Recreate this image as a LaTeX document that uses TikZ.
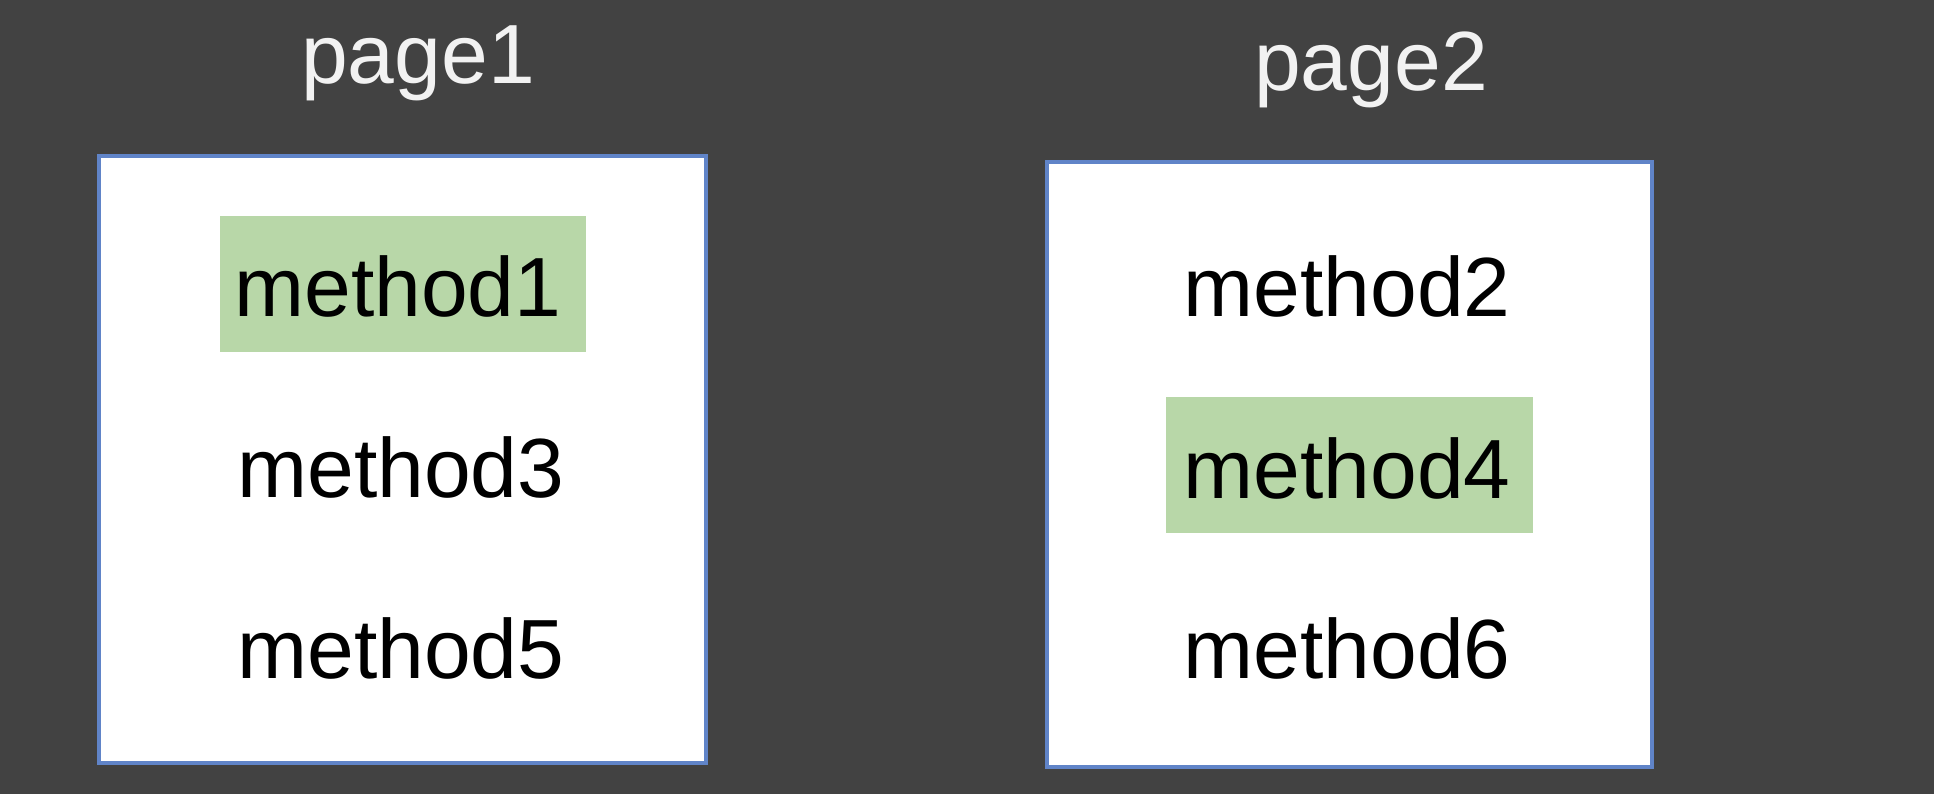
\documentclass[tikz,border=0pt]{standalone}
\usepackage{fontspec}
\setmainfont{Liberation Sans}
\definecolor{bgdark}{HTML}{424242}
\definecolor{frameblue}{HTML}{6084C8}
\definecolor{hlgreen}{HTML}{B8D7A8}
\definecolor{labelwhite}{HTML}{F2F2F2}
\begin{document}
\begin{tikzpicture}[x=1pt,y=-1pt,
  bigfont/.style={font=\fontsize{84}{100}\selectfont},
  pagebox/.style={draw=frameblue,line width=4pt,fill=white},
  hlbox/.style={fill=hlgreen,draw=none},
  methodtext/.style={bigfont,text=black,inner sep=0pt,anchor=base},
  pagelabel/.style={bigfont,text=labelwhite,inner sep=0pt,anchor=base}]
  % canvas
  \fill[bgdark] (0,0) rectangle (1934,794);
  \useasboundingbox (0,0) rectangle (1934,794);

  % page frames
  \draw[pagebox] (99,156) rectangle (706,763);
  \draw[pagebox] (1047,162) rectangle (1652,767);
  \coordinate (p1c) at (402,0);
  \coordinate (p2c) at (1350,0);

  % highlighted methods
  \fill[hlbox] (220,216) rectangle (586,352);
  \fill[hlbox] (1166,397) rectangle (1533,533);

  % titles
  \node[pagelabel] (page1) at (418,84) {page1};
  \node[pagelabel] (page2) at (1371,91) {page2};

  % methods on page 1
  \node[methodtext] (m1) at (398,316) {method1};
  \node[methodtext] (m3) at (401,497) {method3};
  \node[methodtext] (m5) at (401,678) {method5};

  % methods on page 2
  \node[methodtext] (m2) at (1347,316) {method2};
  \node[methodtext] (m4) at (1347,498) {method4};
  \node[methodtext] (m6) at (1347,678) {method6};
\end{tikzpicture}
\end{document}
